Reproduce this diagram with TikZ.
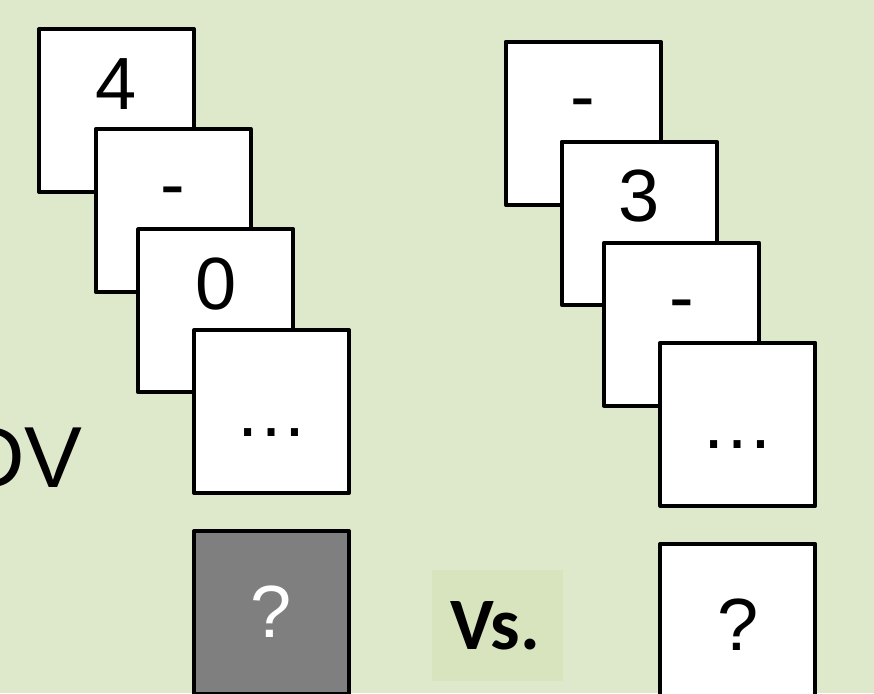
\documentclass[tikz,border=0pt]{standalone}
\usepackage{fontspec}
\setmainfont{Liberation Sans}
\newfontfamily\vsfont{Carlito}
\usetikzlibrary{calc}
\definecolor{sage}{RGB}{222,232,202}
\definecolor{sagebox}{RGB}{215,228,189}
\definecolor{cardgray}{RGB}{127,127,127}
\tikzset{
	card/.style={draw=black, fill=white, line width=3pt, line join=round, minimum width=116.25pt, minimum height=122.25pt, inner sep=0pt},
	face/.style={anchor=base, inner sep=0pt, font=\fontsize{55.5}{60}\selectfont},
}
\begin{document}
\begin{tikzpicture}[x=0.75pt,y=-0.75pt]
			\useasboundingbox (0,0) rectangle (874,693);
			\fill [sage] (0,0) rectangle (874,693);
			\node [anchor=base east, inner sep=0pt, font=\fontsize{65}{70}\selectfont] (dv) at (83,487) {DV};
			\node [card] (l1) at (116.5,110.5) {};
			\node [face] (l1t) at ($(l1.north)+(0,82)$) {4};
			\node [card] (l2) at (173.2,210.5) {};
			\node [face] (l2t) at ($(l2.north)+(0,82)$) {-};
			\node [card] (l3) at (215.8,310.8) {};
			\node [face] (l3t) at ($(l3.north)+(0,82)$) {0};
			\node [card] (l4) at (271.5,411.5) {};
			\node [face] (l4t) at ($(l4.north)+(0,108)$) {…};
			\node [card, fill=cardgray] (lq) at (271.5,612.5) {};
			\node [face, text=white] (lqt) at ($(lq.north)+(0,108)$) {?};
			\node [card] (r1) at (583.2,123.2) {};
			\node [face] (r1t) at ($(r1.north)+(0,82)$) {-};
			\node [card] (r2) at (639.2,223.2) {};
			\node [face] (r2t) at ($(r2.north)+(0,82)$) {3};
			\node [card] (r3) at (681.5,324.2) {};
			\node [face] (r3t) at ($(r3.north)+(0,82)$) {-};
			\node [card] (r4) at (737.8,424.2) {};
			\node [face] (r4t) at ($(r4.north)+(0,108)$) {…};
			\node [card] (rq) at (737.8,625.5) {};
			\node [face] (rqt) at ($(rq.north)+(0,108)$) {?};
			\node [fill=sagebox, minimum width=98.25pt, minimum height=83.25pt, inner sep=0pt] (vsbox) at (497.5,625.5) {};
			\node [anchor=base, inner sep=0pt, font=\vsfont\bfseries\fontsize{55.5}{60}\selectfont] (vs) at (495,649) {Vs.};
		\end{tikzpicture}
\end{document}
